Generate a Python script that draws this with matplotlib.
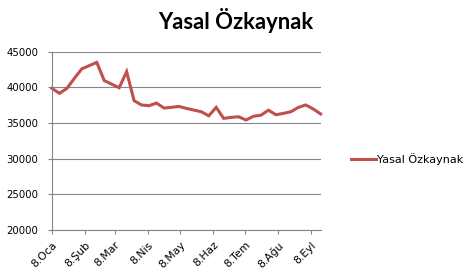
import matplotlib
matplotlib.use("Agg")
import matplotlib.pyplot as plt
import matplotlib.dates as mdates
import numpy as np
import datetime as dt

# ---- data ----
start_date = "2010-01-08"
n_weeks = 37
values = [39860, 39160, 39860, 41270, 42600, 43050, 43500, 40950, 40450, 39950,
          42200, 38130, 37530, 37430, 37800, 37100, 37200, 37330, 37050, 36820,
          36580, 36020, 37190, 35650, 35790, 35880, 35420, 35950, 36100, 36800,
          36160, 36350, 36580, 37190, 37530, 36970, 36270]
series_name = "Yasal Özkaynak"
title = "Yasal Özkaynak"
tick_dates = ["2010-01-08", "2010-02-08", "2010-03-08", "2010-04-08", "2010-05-08",
              "2010-06-08", "2010-07-08", "2010-08-08", "2010-09-08"]
tick_labels = ["8.Oca", "8.Şub", "8.Mar", "8.Nis", "8.May", "8.Haz", "8.Tem", "8.Ağu", "8.Eyl"]
y_ticks = [20000, 25000, 30000, 35000, 40000, 45000]

d0 = dt.datetime.strptime(start_date, "%Y-%m-%d")
dates = [d0 + dt.timedelta(days=7 * i) for i in range(n_weeks)]
tdates = [dt.datetime.strptime(s, "%Y-%m-%d") for s in tick_dates]

W, H = 472, 278
fig = plt.figure(figsize=(W / 100, H / 100), dpi=100)
fig.patch.set_facecolor("white")
ax = fig.add_axes([52 / W, 1 - 230 / H, (320.7 - 52) / W, (230 - 51.7) / H])

grid_c = "#868686"
line, = ax.plot(dates, values, color="#C0504D", lw=2.2, solid_joinstyle="miter", label=series_name,
                clip_on=False)

ax.set_xlim(dates[0], dates[-1])
ax.set_ylim(20000, 45000)
ax.set_yticks(y_ticks)
ax.set_yticklabels([str(v) for v in y_ticks])
ax.set_xticks(tdates)
ax.set_xticklabels(tick_labels, rotation=45, ha="right", rotation_mode="anchor")

ax.yaxis.grid(True, color=grid_c, lw=0.8)
ax.set_axisbelow(True)
for s in ["top", "right"]:
    ax.spines[s].set_visible(False)
for s in ["left", "bottom"]:
    ax.spines[s].set_color(grid_c)
    ax.spines[s].set_linewidth(0.8)

ax.tick_params(axis="y", direction="out", length=3, width=0.8, color=grid_c,
               labelsize=7.3, pad=7)
ax.tick_params(axis="x", direction="out", length=3, width=0.8, color=grid_c,
               labelsize=7.8, pad=4)

fig.text(236 / W, 1 - 29 / H, title, ha="center", va="baseline",
         fontsize=15.8, fontweight="bold", family="Lato")

fig.legend(handles=[line], loc="center left", bbox_to_anchor=(351 / W, 1 - 159 / H),
           frameon=False, fontsize=8.0, handlelength=2.25, handletextpad=0.1,
           borderpad=0, borderaxespad=0)

fig.savefig("out.png", dpi=100, facecolor="white")
